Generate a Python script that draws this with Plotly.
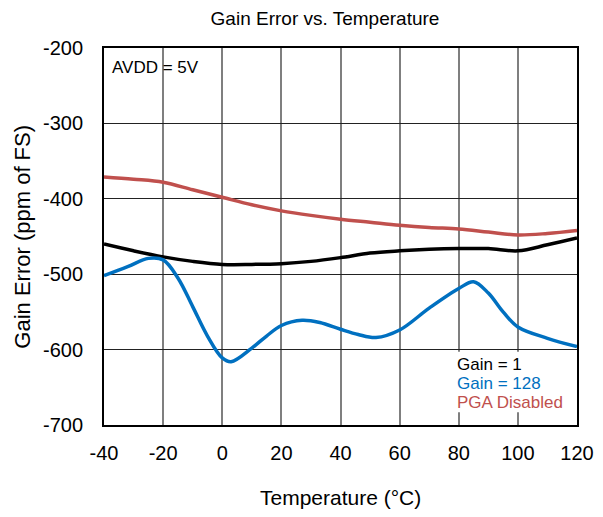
import plotly.graph_objects as go

temp_black = [-40, -30, -20, -10, 0, 10, 20, 30, 40, 50, 60, 70, 80, 90, 100, 110, 120]
gain1 = [-460, -469, -477, -483, -487, -487, -486, -483, -478, -472, -469, -467, -466, -466, -469, -461, -452]

temp_blue = [-40, -32, -25, -20, -15, -10, -5, 0, 3, 10, 15, 20, 27, 33, 40, 46, 52, 60, 70, 80, 85, 90, 95, 100, 110, 120]
gain128 = [-502, -490, -479, -481, -505, -543, -582, -611, -616, -598, -582, -568, -561, -564, -573, -580, -584, -574, -545, -519, -510, -525, -550, -570, -585, -596]

temp_red = [-40, -30, -20, -10, 0, 10, 20, 30, 40, 50, 60, 70, 80, 90, 100, 110, 120]
pga_dis = [-371, -374, -378, -388, -398, -408, -416, -422, -427, -431, -435, -438, -440, -444, -448, -446, -442]

x_ticks = [-40, -20, 0, 20, 40, 60, 80, 100, 120]
x_ticktext = ["-40", "-20", "0", "20", "40", "60", "80", "100", "120"]
y_ticks = [-700, -600, -500, -400, -300, -200]
y_ticktext = ["-700", "-600", "-500", "-400", "-300", "-200"]

fig = go.Figure()
fig.add_trace(go.Scatter(x=temp_red, y=pga_dis, mode="lines", line=dict(color="#C0504D", width=3.5, shape="spline", smoothing=1.0), name="PGA Disabled"))
fig.add_trace(go.Scatter(x=temp_black, y=gain1, mode="lines", line=dict(color="#000000", width=3.5, shape="spline", smoothing=1.0), name="Gain = 1"))
fig.add_trace(go.Scatter(x=temp_blue, y=gain128, mode="lines", line=dict(color="#0070C0", width=3.5, shape="spline", smoothing=1.0), name="Gain = 128"))

font = "Liberation Sans, Arial, sans-serif"
fig.update_layout(
    width=587, height=501,
    margin=dict(l=96, r=18, t=40, b=84),
    paper_bgcolor="white", plot_bgcolor="white",
    showlegend=False,
    font=dict(family=font, color="black", size=20),
    title=dict(text="Gain Error vs. Temperature", x=0.54, xanchor="center", xref="container",
               y=0.98, yanchor="middle", yref="container",
               font=dict(size=19, family=font)),
    xaxis=dict(range=[-40, 120], tickmode="array", tickvals=x_ticks, ticktext=x_ticktext,
               showgrid=True, gridcolor="#7f7f7f", gridwidth=1.5,
               showline=True, linecolor="black", linewidth=2, mirror=True,
               ticks="outside", ticklen=9, tickcolor="rgba(0,0,0,0)",
               tickfont=dict(size=20), zeroline=False, automargin=False),
    yaxis=dict(range=[-700, -200], tickmode="array", tickvals=y_ticks, ticktext=y_ticktext,
               showgrid=True, gridcolor="#222222", gridwidth=1,
               showline=True, linecolor="black", linewidth=2, mirror=True,
               ticks="outside", ticklen=15, tickcolor="rgba(0,0,0,0)",
               tickfont=dict(size=20), zeroline=False, automargin=False),
)

# legend backing box (drawn between grid and traces)
fig.add_shape(type="rect", xref="x", yref="y", x0=75.3, x1=119.3, y0=-683, y1=-603,
              fillcolor="white", line=dict(width=0), layer="between")

fig.add_annotation(x=0.5, y=-0.191, xref="paper", yref="paper", xanchor="center", yanchor="middle",
                   text="Temperature (°C)", showarrow=False, font=dict(size=21))
fig.add_annotation(x=-0.173, y=0.5, xref="paper", yref="paper", xanchor="center", yanchor="middle",
                   text="Gain Error (ppm of FS)", textangle=-90, showarrow=False, font=dict(size=22))

fig.add_annotation(x=0.0127, y=0.947, xref="paper", yref="paper", xanchor="left", yanchor="middle",
                   text="AVDD = 5V", showarrow=False, font=dict(size=17, color="black"))
labels = [("Gain = 1", "#000000"), ("Gain = 128", "#0070C0"), ("PGA Disabled", "#C0504D")]
ys = [0.1618, 0.1114, 0.061]
for (t, c), yy in zip(labels, ys):
    fig.add_annotation(x=0.742, y=yy, xref="paper", yref="paper", xanchor="left", yanchor="middle",
                       text=t, showarrow=False, font=dict(size=17, color=c))

fig.write_html("out.html")
